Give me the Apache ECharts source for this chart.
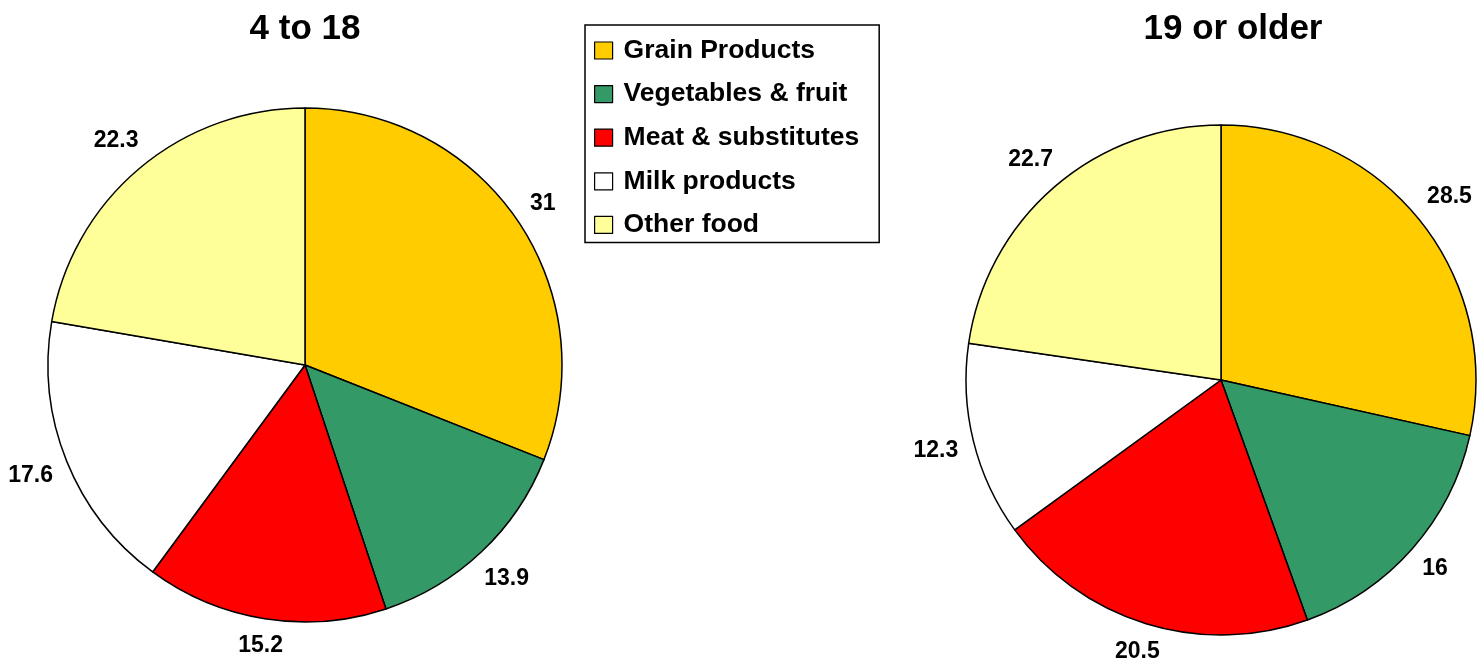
<!DOCTYPE html>
<html>
<head>
<meta charset="utf-8">
<title>Food energy sources by age group</title>
<script src="https://cdn.jsdelivr.net/npm/echarts@6/dist/echarts.min.js"></script>
<style>
  html, body { margin: 0; padding: 0; background: #ffffff; }
  #chart { width: 1480px; height: 662px; }
</style>
</head>
<body>
<div id="chart"></div>
<script>
// Food groups and their share (%) for each age group
const categories = ['Grain Products', 'Vegetables & fruit', 'Meat & substitutes', 'Milk products', 'Other food'];
const youthValues = [31, 13.9, 15.2, 17.6, 22.3];
const adultValues = [28.5, 16, 20.5, 12.3, 22.7];
const groupTitles = ['4 to 18', '19 or older'];
const sliceColors = ['#FFCC00', '#339966', '#FF0000', '#FFFFFF', '#FFFF99'];

const FONT = '"Liberation Sans", Arial, sans-serif';
const LABEL_GAP = 15;

const youthCenter = [305, 365];
const youthRadius = 257;
const adultCenter = [1221, 380];
const adultRadius = 255;

// Places each value label just outside its slice, along the slice's mid angle
function makeLabelLayout(values, center, radius) {
  const total = values.reduce((a, b) => a + b, 0);
  return function (params) {
    let before = 0;
    for (let i = 0; i < params.dataIndex; i++) before += values[i];
    const mid = (before + values[params.dataIndex] / 2) / total * Math.PI * 2;
    const sx = Math.sin(mid);
    const sy = -Math.cos(mid);
    const w = params.labelRect.width;
    const h = 17;
    const d = radius + LABEL_GAP + Math.abs(sx) * w / 2 + Math.abs(sy) * h / 2;
    return {
      x: center[0] + sx * d,
      y: center[1] + sy * d,
      align: 'center',
      verticalAlign: 'middle'
    };
  };
}

function pieSeries(name, values, center, radius) {
  return {
    name: name,
    type: 'pie',
    center: center,
    radius: radius,
    startAngle: 90,
    clockwise: true,
    avoidLabelOverlap: false,
    animation: false,
    silent: true,
    data: categories.map((c, i) => ({
      name: c,
      value: values[i],
      itemStyle: { color: sliceColors[i] }
    })),
    itemStyle: { borderColor: '#000000', borderWidth: 1.5 },
    label: {
      show: true,
      position: 'outside',
      formatter: '{c}',
      fontFamily: FONT,
      fontSize: 23,
      fontWeight: 'bold',
      color: '#000000'
    },
    labelLine: { show: false },
    labelLayout: makeLabelLayout(values, center, radius),
    emphasis: { disabled: true }
  };
}

const chart = echarts.init(document.getElementById('chart'), null, { renderer: 'canvas' });

const titleText = { fontFamily: FONT, fontSize: 35, fontWeight: 'bold', color: '#000000' };

chart.setOption({
  backgroundColor: '#ffffff',
  animation: false,
  title: [
    { text: groupTitles[0], left: 300, top: 7, textAlign: 'center', textStyle: titleText },
    { text: groupTitles[1], left: 1228, top: 7, textAlign: 'center', textStyle: titleText }
  ],
  legend: {
    orient: 'vertical',
    left: 585,
    top: 25,
    data: categories,
    selectedMode: false,
    icon: 'rect',
    itemWidth: 18,
    itemHeight: 17,
    itemGap: 16.6,
    backgroundColor: '#ffffff',
    borderColor: '#000000',
    borderWidth: 1.5,
    padding: [12, 20, 4, 9],
    itemStyle: { borderColor: '#000000', borderWidth: 1.2 },
    textStyle: {
      fontFamily: FONT,
      fontSize: 26.5,
      fontWeight: 'bold',
      color: '#000000',
      padding: [0, 0, 0, 6]
    }
  },
  series: [
    pieSeries(groupTitles[0], youthValues, youthCenter, youthRadius),
    pieSeries(groupTitles[1], adultValues, adultCenter, adultRadius)
  ]
});
</script>
</body>
</html>
